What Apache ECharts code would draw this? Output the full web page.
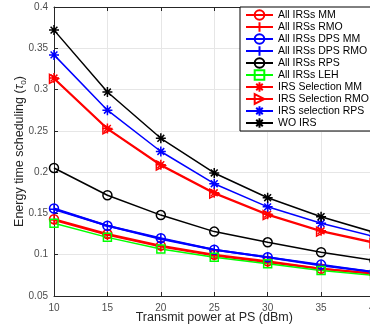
<!DOCTYPE html>
<html><head><meta charset="utf-8">
<script src="https://cdn.jsdelivr.net/npm/echarts@6/dist/echarts.min.js"></script>
<style>html,body{margin:0;padding:0;background:#fff;overflow:hidden}#c{width:370px;height:332px}</style>
</head><body><div id="c"></div>
<script>
const xValues = [10, 15, 20, 25, 30, 35, 40];
const allMM     = [0.143, 0.125, 0.111, 0.100, 0.092, 0.083, 0.077];
const allRMO    = [0.142, 0.124, 0.110, 0.099, 0.091, 0.083, 0.077];
const allDpsMM  = [0.156, 0.135, 0.120, 0.106, 0.097, 0.088, 0.079];
const allDpsRMO = [0.155, 0.135, 0.119, 0.106, 0.097, 0.087, 0.079];
const allRPS    = [0.205, 0.172, 0.148, 0.128, 0.115, 0.103, 0.093];
const allLEH    = [0.138, 0.121, 0.107, 0.097, 0.089, 0.081, 0.075];
const selMM     = [0.314, 0.253, 0.209, 0.175, 0.149, 0.129, 0.115];
const selRMO    = [0.313, 0.252, 0.208, 0.174, 0.148, 0.128, 0.114];
const selRPS    = [0.342, 0.275, 0.225, 0.186, 0.158, 0.138, 0.122];
const woIRS     = [0.372, 0.297, 0.241, 0.199, 0.169, 0.146, 0.127];
const seriesNames = ['All IRSs MM','All IRSs RMO','All IRSs DPS MM','All IRSs DPS RMO','All IRSs RPS','All IRSs LEH','IRS Selection MM','IRS Selection RMO','IRS selection RPS','WO IRS'];

const PLUS = 'path://M5 0L5 10M0 5L10 5';
const STAR = 'path://M5 0L5 10M0 5L10 5M1.6 1.6L8.4 8.4M1.6 8.4L8.4 1.6';
const TRI = 'path://M0 0L10 5L0 10Z';
const CIRC = 'circle';
const SQ = 'rect';

const styles = [
  {c:'#ff0000', s:CIRC, z:9, w:2},
  {c:'#ff0000', s:PLUS, z:10, w:2},
  {c:'#0000ff', s:CIRC, z:9, w:2},
  {c:'#0000ff', s:PLUS, z:10, w:2},
  {c:'#000000', s:CIRC, z:9, w:1.5},
  {c:'#00ff00', s:SQ, z:8, w:1.5},
  {c:'#ff0000', s:STAR, z:10, w:1.5},
  {c:'#ff0000', s:TRI, z:9, w:1.5},
  {c:'#0000ff', s:STAR, z:10, w:1.5},
  {c:'#000000', s:STAR, z:10, w:1.5}
];
const dataSets = [allMM, allRMO, allDpsMM, allDpsRMO, allRPS, allLEH, selMM, selRMO, selRPS, woIRS];

const series = dataSets.map((d, i) => ({
  name: seriesNames[i],
  type: 'line',
  data: xValues.map((x, j) => [x, d[j]]),
  symbol: styles[i].s,
  symbolSize: styles[i].z,
  showSymbol: true,
  clip: false,
  lineStyle: {color: styles[i].c, width: styles[i].w},
  itemStyle: {color: 'rgba(0,0,0,0)', borderColor: styles[i].c, borderWidth: 1.5},
  emphasis: {disabled: true},
  animation: false
}));

const chart = echarts.init(document.getElementById('c'), null, {renderer: 'canvas'});
chart.setOption({
  animation: false,
  textStyle: {fontFamily: 'Liberation Sans, Arial, sans-serif'},
  grid: {left: 54, top: 7, width: 320.5, height: 289, containLabel: false, outerBoundsMode: 'none'},
  legend: {
    orient: 'vertical', left: 240, top: 7,
    padding: [2, 2, 2, 5], itemGap: 0, itemWidth: 27, itemHeight: 12,
    backgroundColor: '#fff', borderColor: '#000', borderWidth: 1, borderRadius: 0,
    textStyle: {fontSize: 10.5, color: '#000', lineHeight: 12, fontFamily: 'Liberation Sans, Arial, sans-serif'},
    data: seriesNames,
    z: 20
  },
  xAxis: [{
    type: 'value', min: 10, max: 40, interval: 5,
    name: 'Transmit power at PS (dBm)', nameLocation: 'middle', nameGap: 15, nameMoveOverlap: false,
    nameTextStyle: {fontSize: 12.5, color: '#262626', verticalAlign: 'top'},
    axisLine: {onZero: false, lineStyle: {color: '#262626', width: 1}},
    axisTick: {inside: true, length: 4, lineStyle: {color: '#262626'}},
    axisLabel: {fontSize: 10, color: '#4d4d4d', margin: 7},
    splitLine: {show: true, lineStyle: {color: '#e6e6e6', width: 1}}
  }, {
    type: 'value', min: 10, max: 40, interval: 5, position: 'top',
    axisLine: {onZero: false, lineStyle: {color: '#262626', width: 1}},
    axisTick: {inside: true, length: 4, lineStyle: {color: '#262626'}},
    axisLabel: {show: false}, splitLine: {show: false}
  }],
  yAxis: [{
    type: 'value', min: 0.05, max: 0.4, interval: 0.05,
    name: 'Energy time scheduling ({t|τ}{s|0})', nameLocation: 'middle', nameGap: 26, nameMoveOverlap: false,
    nameTextStyle: {fontSize: 12.5, color: '#262626',
      rich: {t: {fontSize: 12.5, fontStyle: 'italic', color: '#262626'}, s: {fontSize: 8, color: '#262626', padding: [8, 0, 0, 0]}}},
    axisLine: {show: true, onZero: false, lineStyle: {color: '#262626', width: 1}},
    axisTick: {show: true, inside: true, length: 4, lineStyle: {color: '#262626'}},
    axisLabel: {fontSize: 10, color: '#4d4d4d', margin: 6},
    splitLine: {show: true, lineStyle: {color: '#e6e6e6', width: 1}}
  }],
  series: series
});
</script></body></html>
